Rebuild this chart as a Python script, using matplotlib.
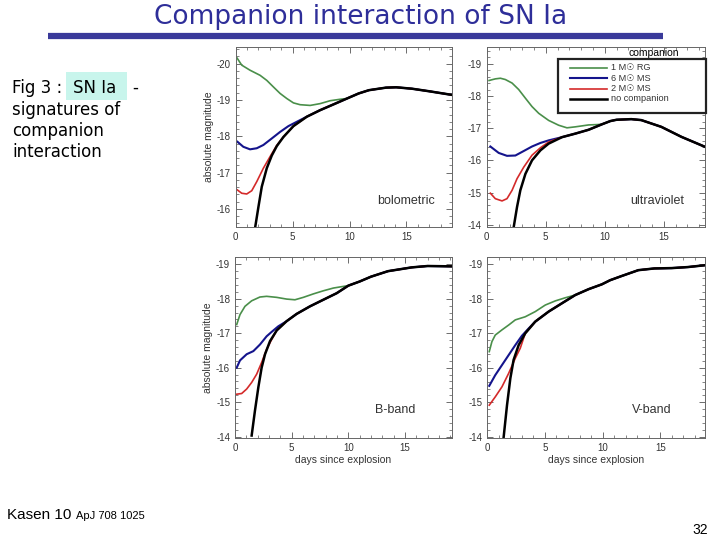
import matplotlib
matplotlib.use("Agg")
import matplotlib.pyplot as plt
from matplotlib.patches import Rectangle
from matplotlib.lines import Line2D
from matplotlib.ticker import MultipleLocator

plt.rcParams["axes.unicode_minus"] = False

# ---------------- data (days since explosion, absolute magnitude) ----------------
# bolometric
bol_nc_days = [1.7, 2.0, 2.29, 2.73, 3.17, 3.61, 4.19, 5.07, 6.25, 7.42, 8.6, 9.77, 10.8, 11.7, 13.2, 14.1, 15.5, 17.0, 19.0]
bol_nc_mag = [-15.47, -16.06, -16.61, -17.12, -17.47, -17.73, -17.98, -18.28, -18.54, -18.72, -18.88, -19.04, -19.18, -19.27, -19.34, -19.35, -19.31, -19.24, -19.14]
bol_rg_days = [0.09, 0.53, 1.26, 2.14, 2.73, 3.31, 3.9, 4.49, 5.07, 5.66, 6.54, 7.42, 8.3, 9.18]
bol_rg_mag = [-20.17, -19.96, -19.82, -19.68, -19.54, -19.36, -19.18, -19.04, -18.92, -18.87, -18.85, -18.9, -18.98, -19.02]
bol_ms6_days = [0.15, 0.67, 1.26, 1.85, 2.43, 3.17, 3.9, 4.63, 5.37]
bol_ms6_mag = [-17.85, -17.71, -17.64, -17.67, -17.76, -17.94, -18.12, -18.28, -18.4]
bol_ms2_days = [0.15, 0.53, 0.97, 1.41, 1.85, 2.43, 3.02, 3.61]
bol_ms2_mag = [-16.52, -16.43, -16.41, -16.5, -16.75, -17.12, -17.44, -17.75]

# ultraviolet
uv_nc_days = [2.29, 2.57, 2.85, 3.28, 3.84, 4.55, 5.25, 6.38, 7.51, 8.64, 9.77, 10.48, 11.0, 12.25, 13.1, 14.8, 16.5, 18.5]
uv_nc_mag = [-13.93, -14.55, -15.07, -15.58, -16.0, -16.31, -16.52, -16.72, -16.83, -16.95, -17.12, -17.22, -17.26, -17.28, -17.25, -17.04, -16.73, -16.42]
uv_rg_days = [0.2, 0.73, 1.16, 1.58, 2.15, 2.71, 3.28, 3.84, 4.41, 5.25, 6.1, 6.8, 7.5, 8.64, 9.35]
uv_rg_mag = [-18.48, -18.53, -18.55, -18.51, -18.4, -18.2, -17.93, -17.67, -17.46, -17.24, -17.09, -17.01, -17.04, -17.1, -17.11]
uv_ms6_days = [0.31, 1.02, 1.72, 2.43, 3.14, 3.84, 4.55, 5.25]
uv_ms6_mag = [-16.43, -16.23, -16.14, -16.15, -16.29, -16.43, -16.54, -16.62]
uv_ms2_days = [0.31, 0.73, 1.3, 1.72, 2.15, 2.57, 3.14, 3.84, 4.55, 5.25]
uv_ms2_mag = [-14.98, -14.81, -14.74, -14.81, -15.07, -15.43, -15.79, -16.16, -16.39, -16.57]

# B-band
b_nc_days = [1.47, 1.76, 2.06, 2.35, 2.65, 3.09, 3.68, 4.56, 5.44, 6.62, 7.79, 8.97, 10.0, 11.0, 12.0, 13.5, 15.6, 17.0, 19.1]
b_nc_mag = [-14.03, -14.75, -15.43, -16.0, -16.39, -16.77, -17.08, -17.35, -17.56, -17.78, -17.97, -18.16, -18.38, -18.5, -18.64, -18.8, -18.91, -18.95, -18.94]
b_rg_days = [0.15, 0.44, 0.88, 1.47, 2.2, 2.79, 3.68, 4.56, 5.29, 6.03, 6.91, 7.79, 8.68, 9.41]
b_rg_mag = [-17.25, -17.54, -17.78, -17.94, -18.05, -18.07, -18.04, -17.99, -17.97, -18.04, -18.14, -18.23, -18.31, -18.35]
b_ms6_days = [0.15, 0.44, 1.03, 1.62, 2.2, 2.79, 3.24, 3.82]
b_ms6_mag = [-16.0, -16.21, -16.39, -16.48, -16.67, -16.91, -17.04, -17.2]
b_ms2_days = [0.15, 0.59, 1.03, 1.47, 1.91, 2.35, 2.79, 3.24]
b_ms2_mag = [-15.23, -15.25, -15.38, -15.57, -15.81, -16.15, -16.53, -16.82]

# V-band
v_nc_days = [1.42, 1.71, 2.0, 2.28, 2.72, 3.29, 4.16, 5.32, 6.47, 7.63, 8.79, 9.94, 10.66, 11.65, 13.1, 14.5, 16.0, 17.4, 18.8]
v_nc_mag = [-14.0, -14.92, -15.7, -16.23, -16.66, -17.0, -17.34, -17.63, -17.87, -18.11, -18.28, -18.42, -18.54, -18.66, -18.83, -18.88, -18.89, -18.92, -18.97]
v_rg_days = [0.17, 0.4, 0.69, 1.27, 1.85, 2.43, 3.29, 4.16, 5.03, 5.9, 6.76]
v_rg_mag = [-16.47, -16.76, -16.95, -17.1, -17.24, -17.39, -17.48, -17.63, -17.82, -17.94, -18.03]
v_ms6_days = [0.17, 0.69, 1.27, 1.85, 2.43, 3.0, 3.58]
v_ms6_mag = [-15.48, -15.79, -16.08, -16.37, -16.66, -16.93, -17.14]
v_ms2_days = [0.17, 0.69, 1.27, 1.85, 2.43, 2.86]
v_ms2_mag = [-14.92, -15.16, -15.45, -15.84, -16.28, -16.57]

series_labels = ["1 M\u2609 RG", "6 M\u2609 MS", "2 M\u2609 MS", "no companion"]
panel_names = ["bolometric", "ultraviolet", "B-band", "V-band"]

C_RG, C_MS6, C_MS2, C_NC = "#4a8f4a", "#14148c", "#d42a2a", "#000000"
series_colors = [C_RG, C_MS6, C_MS2, C_NC]
series_lw = [1.2, 1.5, 1.2, 1.8]
TXT = "#333333"

def extend(d, m, nd, nm):
    last = d[-1]
    dd = list(d) + [x for x in nd if x > last]
    mm = list(m) + [y for x, y in zip(nd, nm) if x > last]
    return dd, mm

fig = plt.figure(figsize=(7.2, 5.4), dpi=100)
fig.patch.set_facecolor("white")

# ---------------- slide elements ----------------
fig.text(361 / 720, 1 - 17 / 540, "Companion interaction of SN Ia", ha="center", va="center",
         fontsize=19, color="#2e2e99", family="DejaVu Sans")
fig.add_artist(Line2D([48 / 720, 663 / 720], [1 - 36 / 540, 1 - 36 / 540], color="#3a3a9a",
                      lw=4.5, transform=fig.transFigure, solid_capstyle="butt"))

fig.add_artist(Rectangle((66 / 720, 1 - 100 / 540), 61 / 720, 28 / 540, transform=fig.transFigure,
                         facecolor="#c8f5ec", edgecolor="none"))
lt = dict(fontsize=12, color="black", family="DejaVu Sans", va="center", ha="left")
fig.text(12 / 720, 1 - 88 / 540, "Fig 3 :", **lt)
fig.text(73 / 720, 1 - 88 / 540, "SN Ia", **lt)
fig.text(132 / 720, 1 - 88 / 540, "-", **lt)
fig.text(12 / 720, 1 - 110 / 540, "signatures of", **lt)
fig.text(12 / 720, 1 - 131 / 540, "companion", **lt)
fig.text(12 / 720, 1 - 152 / 540, "interaction", **lt)

fig.text(7 / 720, 1 - 515 / 540, "Kasen 10", fontsize=11, family="Liberation Sans", va="center", ha="left")
fig.text(76 / 720, 1 - 516 / 540, "ApJ 708 1025", fontsize=8, family="Liberation Sans", va="center", ha="left")
fig.text(708 / 720, 1 - 530 / 540, "32", fontsize=10, family="Liberation Sans", va="center", ha="right")

# ---------------- panels ----------------
panels = [
    dict(pos=(235.7, 47, 452, 227), xlim=19.0, ylim=(-15.5, -20.46),
         data=(bol_rg_days, bol_rg_mag, bol_ms6_days, bol_ms6_mag, bol_ms2_days, bol_ms2_mag, bol_nc_days, bol_nc_mag),
         ylabel=True, xlabel=False, lab=(0.787, 0.144)),
    dict(pos=(486.7, 47, 705, 227), xlim=18.5, ylim=(-13.93, -19.52),
         data=(uv_rg_days, uv_rg_mag, uv_ms6_days, uv_ms6_mag, uv_ms2_days, uv_ms2_mag, uv_nc_days, uv_nc_mag),
         ylabel=False, xlabel=False, lab=(0.78, 0.144)),
    dict(pos=(235, 256.7, 452, 438.3), xlim=19.15, ylim=(-13.95, -19.22),
         data=(b_rg_days, b_rg_mag, b_ms6_days, b_ms6_mag, b_ms2_days, b_ms2_mag, b_nc_days, b_nc_mag),
         ylabel=True, xlabel=True, lab=(0.737, 0.156)),
    dict(pos=(487.3, 256.7, 704.5, 438.3), xlim=18.84, ylim=(-13.96, -19.22),
         data=(v_rg_days, v_rg_mag, v_ms6_days, v_ms6_mag, v_ms2_days, v_ms2_mag, v_nc_days, v_nc_mag),
         ylabel=False, xlabel=True, lab=(0.758, 0.156)),
]

axes = []
for i, p in enumerate(panels):
    x0, y0, x1, y1 = p["pos"]
    ax = fig.add_axes([x0 / 720, 1 - y1 / 540, (x1 - x0) / 720, (y1 - y0) / 540])
    axes.append(ax)
    rg_d, rg_m, m6_d, m6_m, m2_d, m2_m, nc_d, nc_m = p["data"]
    for k, (sd, sm) in enumerate([(rg_d, rg_m), (m6_d, m6_m), (m2_d, m2_m)]):
        d, m = extend(sd, sm, nc_d, nc_m)
        ax.plot(d, m, color=series_colors[k], lw=series_lw[k])
    ax.plot(nc_d, nc_m, color=C_NC, lw=series_lw[3])

    ax.set_xlim(0, p["xlim"])
    ax.set_ylim(*p["ylim"])
    ax.xaxis.set_major_locator(MultipleLocator(5))
    ax.xaxis.set_minor_locator(MultipleLocator(1))
    ax.yaxis.set_major_locator(MultipleLocator(1))
    ax.yaxis.set_minor_locator(MultipleLocator(0.2))
    ax.tick_params(which="both", direction="in", top=True, right=True, colors="#555555",
                   labelcolor=TXT, labelsize=7)
    ax.tick_params(which="major", length=4, width=0.6)
    ax.tick_params(which="minor", length=2, width=0.5)
    for t in ax.get_xticklabels() + ax.get_yticklabels():
        t.set_family("Liberation Sans")
    for s in ax.spines.values():
        s.set_color("#666666")
        s.set_linewidth(0.7)
    if p["ylabel"]:
        ax.set_ylabel("absolute magnitude", fontsize=7.5, color=TXT, family="Liberation Sans", labelpad=2)
    if p["xlabel"]:
        ax.set_xlabel("days since explosion", fontsize=7.5, color=TXT, family="Liberation Sans", labelpad=1)
    ax.text(p["lab"][0], p["lab"][1], panel_names[i], transform=ax.transAxes, ha="center", va="center",
            fontsize=9, color=TXT, family="Liberation Sans")

# legend box in the ultraviolet panel (drawn as a key)
ax = axes[1]
W, H = 218.3, 180.0
def ax_x(px):
    return (px - 486.7) / W
def ax_y(py):
    return 1 - (py - 47) / H
ax.add_patch(Rectangle((ax_x(558), ax_y(113)), ax_x(706) - ax_x(558), ax_y(59) - ax_y(113),
                       transform=ax.transAxes, facecolor="white", edgecolor="#222222", lw=1.6,
                       zorder=5, clip_on=False))
rows = [68, 78.3, 88.6, 98.9]
for k, ry in enumerate(rows):
    ax.add_line(Line2D([ax_x(570), ax_x(607)], [ax_y(ry), ax_y(ry)], color=series_colors[k],
                       lw=series_lw[k], transform=ax.transAxes, zorder=6))
    ax.text(ax_x(611), ax_y(ry), series_labels[k], transform=ax.transAxes, ha="left", va="center",
            fontsize=6.6, color=TXT, family=["Liberation Sans", "DejaVu Sans"], zorder=6)
ax.text(ax_x(654), ax_y(52.5), "companion", transform=ax.transAxes, ha="center", va="center",
        fontsize=7.5, color="black", family="Liberation Sans", zorder=10)

fig.savefig("out.png", dpi=100, facecolor="white")
